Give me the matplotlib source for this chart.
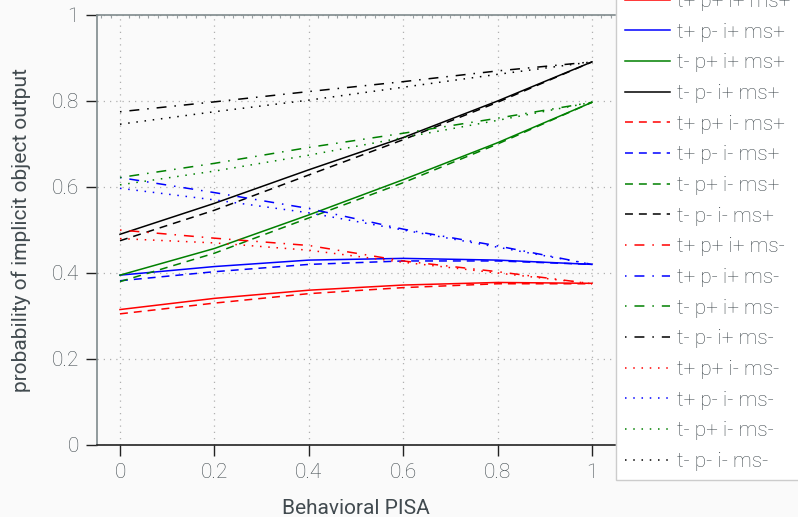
"""
plot.py
-------
Predicted probability of implicit object output against Behavioral PISA,
one curve per t/p/i/ms condition.
"""

import matplotlib
matplotlib.use('Agg')
import matplotlib.pyplot as plt
from matplotlib.ticker import MultipleLocator, FuncFormatter

# values at x = 0, 0.2, ..., 1
pisa = [0.0, 0.2, 0.4, 0.6, 0.8, 1.0]

labels = [
    "t+ p+ i+ ms+", "t+ p- i+ ms+", "t- p+ i+ ms+", "t- p- i+ ms+",
    "t+ p+ i- ms+", "t+ p- i- ms+", "t- p+ i- ms+", "t- p- i- ms+",
    "t+ p+ i+ ms-", "t+ p- i+ ms-", "t- p+ i+ ms-", "t- p- i+ ms-",
    "t+ p+ i- ms-", "t+ p- i- ms-", "t- p+ i- ms-", "t- p- i- ms-",
]

prob = [
    [0.315, 0.341, 0.360, 0.372, 0.378, 0.376],   # t+ p+ i+ ms+
    [0.395, 0.415, 0.430, 0.434, 0.430, 0.420],   # t+ p- i+ ms+
    [0.395, 0.457, 0.535, 0.617, 0.703, 0.797],   # t- p+ i+ ms+
    [0.490, 0.562, 0.640, 0.715, 0.800, 0.891],   # t- p- i+ ms+
    [0.305, 0.330, 0.352, 0.366, 0.375, 0.375],   # t+ p+ i- ms+
    [0.382, 0.403, 0.420, 0.428, 0.428, 0.420],   # t+ p- i- ms+
    [0.380, 0.446, 0.528, 0.610, 0.700, 0.797],   # t- p+ i- ms+
    [0.475, 0.546, 0.628, 0.710, 0.797, 0.891],   # t- p- i- ms+
    [0.500, 0.481, 0.464, 0.428, 0.403, 0.375],   # t+ p+ i+ ms-
    [0.622, 0.587, 0.550, 0.502, 0.463, 0.420],   # t+ p- i+ ms-
    [0.622, 0.655, 0.692, 0.725, 0.760, 0.797],   # t- p+ i+ ms-
    [0.775, 0.798, 0.822, 0.845, 0.870, 0.891],   # t- p- i+ ms-
    [0.480, 0.470, 0.453, 0.425, 0.400, 0.375],   # t+ p+ i- ms-
    [0.597, 0.570, 0.540, 0.500, 0.460, 0.420],   # t+ p- i- ms-
    [0.605, 0.637, 0.674, 0.715, 0.755, 0.797],   # t- p+ i- ms-
    [0.746, 0.775, 0.802, 0.832, 0.862, 0.891],   # t- p- i- ms-
]

colors = ["#ff0000", "#0000ff", "#008000", "#000000"]
styles = [
    "-",
    (0, (5.2, 3.9)),
    (0, (1, 5.2, 6.5, 5.2)),
    (0, (1, 4.4)),
]

TEXT = "#414a4f"
BG = "#fafafa"

plt.rcParams['font.family'] = ['Roboto', 'DejaVu Sans']
plt.rcParams['font.weight'] = 'light'
plt.rcParams['font.size'] = 15

fig = plt.figure(figsize=(7.98, 5.17), dpi=100, facecolor=BG)
W, H = 798, 517
ax = fig.add_axes([97 / W, 1 - 445 / H, (615 - 97) / W, (445 - 15) / H])
ax.set_facecolor(BG)

for k, (lab, ys) in enumerate(zip(labels, prob)):
    ax.plot(pisa, ys, color=colors[k % 4], linestyle=styles[k // 4],
            linewidth=1.1, label=lab)

ax.set_xlim(-0.0487, 1.0487)
ax.set_ylim(0, 1)
ax.xaxis.set_major_locator(MultipleLocator(0.2))
ax.yaxis.set_major_locator(MultipleLocator(0.2))
ax.xaxis.set_minor_locator(MultipleLocator(0.02))
fmt = FuncFormatter(lambda v, p: f"{v:.1f}".rstrip("0").rstrip(".") if v else "0")
ax.xaxis.set_major_formatter(fmt)
ax.yaxis.set_major_formatter(fmt)

ax.grid(True, which='major', color='#b0b0b0', linestyle=(0, (1, 4)), linewidth=0.9)

ax.tick_params(axis='both', which='major', direction='out', length=8, width=1,
               colors='#222222', labelcolor=TEXT, pad=5)
ax.tick_params(axis='x', which='minor', bottom=False, top=True, direction='in',
               length=2.5, color='#9aa0a3', width=0.8)

for side in ['left', 'top']:
    ax.spines[side].set_color('#7f8a8c')
    ax.spines[side].set_linewidth(1.2)
ax.spines['bottom'].set_color('#222222')
ax.spines['bottom'].set_linewidth(1.2)
ax.spines['right'].set_visible(False)

ax.set_xlabel("Behavioral PISA", color=TEXT, labelpad=12)
ax.set_ylabel("probability of implicit object output", color=TEXT, labelpad=15)

# legend sits to the right and runs off the top edge, as in the original
leg = fig.legend(loc='lower left', bbox_to_anchor=(616 / W, 1 - 480 / H),
                 borderaxespad=0, frameon=True, fancybox=False, framealpha=1,
                 facecolor='white', edgecolor='#cccccc', handlelength=2.16,
                 handletextpad=0.34, borderpad=0.43, labelspacing=0.56,
                 fontsize=15)
for t in leg.get_texts():
    t.set_color(TEXT)

plt.savefig("out.png", dpi=100, facecolor=BG)
